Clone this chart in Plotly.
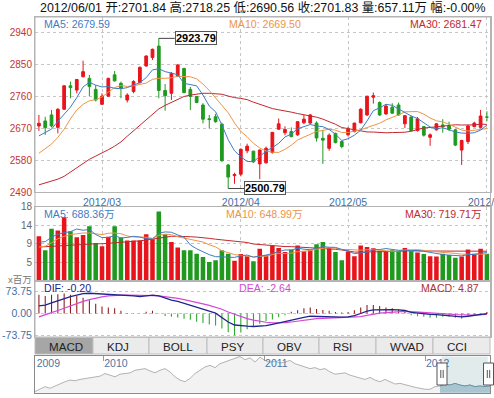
import plotly.graph_objects as go

W, H = 494, 398
FONT = "Liberation Sans, Arial, Noto Sans CJK SC, sans-serif"

# ---------------- data ----------------
dates = [
    "2012-02-16", "2012-02-17", "2012-02-20", "2012-02-21", "2012-02-22", "2012-02-23", "2012-02-24", "2012-02-27", "2012-02-28", "2012-02-29",
    "2012-03-01", "2012-03-02", "2012-03-05", "2012-03-06", "2012-03-07", "2012-03-08", "2012-03-09", "2012-03-12", "2012-03-13", "2012-03-14",
    "2012-03-15", "2012-03-16", "2012-03-19", "2012-03-20", "2012-03-21", "2012-03-22", "2012-03-23", "2012-03-26", "2012-03-27", "2012-03-28",
    "2012-03-29", "2012-03-30", "2012-04-05", "2012-04-06", "2012-04-09", "2012-04-10", "2012-04-11", "2012-04-12", "2012-04-13", "2012-04-16",
    "2012-04-17", "2012-04-18", "2012-04-19", "2012-04-20", "2012-04-23", "2012-04-24", "2012-04-25", "2012-04-26", "2012-04-27", "2012-05-02",
    "2012-05-03", "2012-05-04", "2012-05-07", "2012-05-08", "2012-05-09", "2012-05-10", "2012-05-11", "2012-05-14", "2012-05-15", "2012-05-16",
    "2012-05-17", "2012-05-18", "2012-05-21", "2012-05-22", "2012-05-23", "2012-05-24", "2012-05-25", "2012-05-28", "2012-05-29", "2012-05-30",
    "2012-05-31", "2012-06-01",
]

open_ = [2677, 2691, 2708, 2673, 2724, 2790, 2778, 2816, 2811, 2780,
         2738, 2761, 2821, 2797, 2750, 2774, 2799, 2846, 2870, 2902,
         2777, 2769, 2818, 2839, 2780, 2760, 2736, 2697, 2703, 2682,
         2567, 2537, 2541, 2607, 2606, 2570, 2573, 2602, 2668, 2658,
         2661, 2652, 2686, 2685, 2685, 2642, 2614, 2656, 2633, 2652,
         2661, 2686, 2708, 2758, 2743, 2711, 2730, 2736, 2683, 2702,
         2664, 2675, 2645, 2666, 2680, 2677, 2666, 2609, 2633, 2675,
         2673, 2701.84]
high = [2708, 2703, 2722, 2727, 2792, 2802, 2808, 2861, 2821, 2792,
        2769, 2813, 2832, 2802, 2769, 2806, 2845, 2876, 2895, 2923.79,
        2795, 2829, 2851, 2841, 2787, 2761, 2741, 2708, 2711, 2686,
        2570, 2545, 2614, 2627, 2607, 2611, 2619, 2660, 2698, 2676,
        2673, 2690, 2708, 2711, 2690, 2666, 2656, 2658, 2636, 2674,
        2686, 2727, 2761, 2771, 2746, 2739, 2741, 2743, 2708, 2706,
        2702, 2677, 2656, 2685, 2696, 2689, 2668, 2638, 2680, 2689,
        2722, 2718.25]
low = [2663, 2652, 2673, 2656, 2722, 2755, 2769, 2813, 2761, 2746,
       2736, 2759, 2802, 2755, 2743, 2769, 2797, 2844, 2863, 2755,
       2720, 2750, 2816, 2769, 2722, 2741, 2684, 2670, 2686, 2576,
       2500.79, 2514, 2535, 2600, 2573, 2527, 2571, 2599, 2666, 2651,
       2645, 2649, 2682, 2682, 2633, 2570, 2607, 2628, 2614, 2647,
       2659, 2684, 2705, 2740, 2705, 2708, 2711, 2705, 2671, 2661,
       2661, 2647, 2621, 2664, 2658, 2663, 2620, 2567, 2626, 2673,
       2670, 2690.56]
close = [2684.5, 2672, 2677, 2724, 2790, 2785, 2808, 2830, 2788, 2750,
         2761, 2811, 2804, 2783, 2764, 2802, 2842, 2874, 2893, 2777,
         2762, 2825, 2849, 2771, 2760, 2743, 2696, 2695, 2689, 2579,
         2533, 2540, 2611, 2620, 2576, 2609, 2614, 2659, 2683, 2667,
         2647, 2689, 2696, 2708, 2643, 2637, 2651, 2630, 2619, 2668,
         2685, 2724, 2761, 2762, 2708, 2733, 2713, 2708, 2706, 2664,
         2697, 2651, 2652, 2683, 2675, 2668, 2623, 2636, 2677, 2685,
         2705, 2701.83]

ma5 = [2649, 2659, 2668, 2690, 2709, 2730, 2757, 2787, 2800, 2792,
       2787, 2788, 2783, 2782, 2785, 2793, 2799, 2813, 2835, 2838,
       2830, 2826, 2821, 2797, 2793, 2790, 2764, 2733, 2717, 2680,
       2638, 2607, 2590, 2577, 2576, 2591, 2606, 2616, 2628, 2646,
       2654, 2669, 2676, 2681, 2677, 2675, 2667, 2654, 2636, 2641,
       2651, 2665, 2691, 2720, 2728, 2738, 2735, 2725, 2714, 2705,
       2698, 2685, 2674, 2669, 2672, 2666, 2660, 2657, 2656, 2658,
       2665, 2679.59]
ma10 = [2600, 2612, 2626, 2645, 2668, 2697, 2722, 2738, 2748, 2751,
        2758.5, 2772.4, 2785.1, 2791, 2788.4, 2790.1, 2793.5, 2797.9, 2808.4, 2811.1,
        2811.2, 2812.6, 2817.1, 2815.9, 2815.5, 2809.6, 2795, 2777.1, 2756.7, 2736.9,
        2714, 2685.5, 2661.7, 2646.6, 2628.2, 2614.8, 2606.6, 2603, 2602.4, 2611.2,
        2622.6, 2637.5, 2646, 2654.8, 2661.5, 2664.3, 2668, 2665.1, 2658.7, 2658.8,
        2662.6, 2666.1, 2672.6, 2678, 2684.5, 2694.1, 2700.3, 2708.1, 2716.8, 2716.4,
        2717.6, 2710.3, 2699.4, 2691.5, 2688.2, 2681.7, 2672.7, 2665.5, 2662.6, 2664.7,
        2665.5, 2669.50]
ma30 = [2511, 2516, 2521, 2527, 2535, 2547, 2560, 2572, 2583, 2592,
        2600, 2610, 2620, 2632, 2648, 2663, 2678, 2693, 2708, 2725,
        2735, 2744, 2752, 2760, 2764, 2767, 2769, 2769, 2768, 2766.3,
        2761.2, 2756.8, 2754.6, 2751.2, 2744, 2738.2, 2731.7, 2726, 2722.5, 2719.7,
        2715.9, 2711.9, 2708.3, 2705.8, 2701.7, 2696.2, 2689.9, 2681.7, 2672.6, 2669,
        2666.4, 2663, 2660.1, 2659.8, 2658.1, 2657.7, 2658.3, 2658.7, 2659.3, 2662.1,
        2667.6, 2671.3, 2672.7, 2674.8, 2678.1, 2680, 2680.3, 2679.6, 2679.4, 2680,
        2681.9, 2681.47]

# volume, in millions (百万)
volume = [10.8, 7.4, 12.6, 12.2, 15.4, 12.0, 10.6, 11.1, 13.2, 9.2,
          8.4, 10.7, 13.2, 10.5, 9.8, 9.8, 9.8, 11.3, 10.1, 16.8,
          11.3, 9.4, 8.1, 7.4, 7.4, 6.6, 5.8, 4.6, 5.0, 7.4,
          6.6, 4.9, 6.5, 6.0, 4.8, 7.8, 6.2, 8.5, 8.0, 7.0,
          7.6, 8.6, 7.2, 7.4, 8.9, 9.4, 7.9, 7.0, 5.0, 7.1,
          6.0, 8.6, 8.2, 7.9, 7.3, 7.2, 7.4, 7.3, 8.0, 7.2,
          6.9, 6.5, 6.0, 5.9, 6.6, 6.3, 5.6, 5.9, 7.6, 6.6,
          7.8, 6.5711]
vol_ma5 = [9.4, 9.5, 10.6, 11.3, 11.68, 11.92, 12.56, 12.26, 12.46, 11.22,
           10.5, 10.52, 10.94, 10.4, 10.52, 10.8, 10.62, 10.24, 10.16, 11.56,
           11.86, 11.78, 11.14, 10.6, 8.72, 7.78, 7.06, 6.36, 5.88, 5.88,
           5.88, 5.7, 6.08, 6.28, 5.76, 6.0, 6.26, 6.66, 7.06, 7.5,
           7.46, 7.94, 7.68, 7.56, 7.94, 8.3, 8.16, 8.12, 7.64, 7.28,
           6.6, 6.74, 6.98, 7.56, 7.6, 7.84, 7.6, 7.42, 7.44, 7.42,
           7.36, 7.18, 6.92, 6.5, 6.38, 6.26, 6.08, 6.06, 6.4, 6.4,
           6.7, 6.8836]
vol_ma10 = [8.2, 8.4, 9.2, 10.2, 10.8, 11.2, 11.4, 11.6, 11.6, 11.45,
            11.21, 11.54, 11.6, 11.43, 10.87, 10.65, 10.57, 10.59, 10.28, 11.04,
            11.33, 11.2, 10.69, 10.38, 10.14, 9.82, 9.42, 8.75, 8.24, 7.3,
            6.83, 6.38, 6.22, 6.08, 5.82, 5.94, 5.98, 6.37, 6.67, 6.63,
            6.73, 7.1, 7.17, 7.31, 7.72, 7.88, 8.05, 7.9, 7.6, 7.61,
            7.45, 7.45, 7.55, 7.6, 7.44, 7.22, 7.17, 7.2, 7.5, 7.51,
            7.6, 7.39, 7.17, 6.97, 6.9, 6.81, 6.63, 6.49, 6.45, 6.39,
            6.48, 6.4899]
vol_ma30 = [8.2, 8.3, 8.4, 8.4, 8.5, 8.6, 8.7, 8.8, 8.9, 9.0,
            9.0, 9.1, 9.2, 9.3, 9.4, 9.5, 9.7, 9.9, 10.1, 10.4,
            10.6, 10.8, 10.8, 10.8, 10.7, 10.6, 10.5, 10.3, 10.1, 9.93,
            9.79, 9.71, 9.5, 9.3, 8.94, 8.8, 8.66, 8.57, 8.4, 8.32,
            8.3, 8.23, 8.03, 7.92, 7.89, 7.88, 7.82, 7.67, 7.5, 7.18,
            7.0, 6.98, 6.98, 7.0, 6.99, 7.01, 7.07, 7.16, 7.26, 7.25,
            7.26, 7.31, 7.3, 7.29, 7.35, 7.3, 7.28, 7.2, 7.18, 7.17,
            7.18, 7.1971]

dif = [25, 28, 35, 42, 50, 56, 61, 66, 67, 66,
       65, 64, 63, 62, 60, 58, 56, 58, 61, 58,
       50, 44, 40, 34, 28, 20, 14, 8, 1, -14,
       -28, -38, -41, -42, -43, -42, -40, -36, -31, -27,
       -22, -17, -13, -9, -10, -11, -12, -13, -12, -11,
       -7, 0, 8, 12, 13, 13, 13, 12, 10, 4,
       1, -1, -3, -4, -6, -7, -9, -11, -9, -6,
       -3, -0.20]
dea = [-11, -5, 3, 10, 18, 26, 33, 40, 46, 51,
       55, 58, 60, 61, 61, 61, 60, 59, 59, 58,
       56, 53, 50, 46, 42, 37, 32, 27, 21, 14,
       5, -3, -10, -17, -22, -26, -29, -31, -31, -30,
       -28, -25, -22, -19, -17, -16, -15, -15, -14, -14,
       -13, -10, -6, -2, 1, 3, 5, 6, 7, 6,
       5, 4, 2, 1, -1, -2, -4, -5, -6, -5,
       -4, -2.64]
macd = [62, 58, 62, 64, 66, 62, 58, 52, 44, 32,
        23, 20, 17, 9, 2, 0.5, -1, 6, 9, 1,
        -8, -11, -13, -17, -21, -27, -31, -36, -40, -50,
        -62, -72, -63, -52, -42, -34, -26, -20, -12, -6,
        6, 11, 17, 20, 15, 12, 9, 5, 3, 5,
        11, 20, 28, 28, 25, 20, 17, 14, 9, -6,
        -9, -11, -14, -14, -11, -11, -14, -17, -11, -8,
        -2, 4.87]

main_ticks = [2490, 2580, 2670, 2760, 2850, 2940]
vol_ticks = [4.5, 9, 13.5, 18]
vol_tick_text = ["5", "9", "14", "18"]
macd_ticks = [-73.75, 0, 73.75]
macd_tick_text = ["-73.75", "0.00", "73.75"]
tab_names = ["MACD", "KDJ", "BOLL", "PSY", "OBV", "RSI", "WVAD", "CCI"]
change_pct = "-0.00%"

# navigator: long history line (index level), Aug 2009 .. Jun 2012
nav_level = [2530, 2600, 2680, 2630, 2700, 2780, 2830, 2880, 2860, 2900,
             2930, 2960, 2980, 3000, 3080, 3030, 2980, 3060, 3080, 3100,
             3180, 3200, 3230, 3160, 3100, 3180, 3230, 3130, 2980, 2880,
             2830, 2930, 3080, 3180, 3280, 3330, 3260, 3380, 3430, 3480,
             3530, 3600, 3500, 3560, 3430, 3580, 3480, 3430, 3460, 3400,
             3430, 3480, 3380, 3330, 3300, 3230, 3260, 3200, 3230, 3130,
             3060, 3080, 3100, 3030, 2980, 2930, 2900, 2960, 2880, 2830,
             2900, 2830, 2760, 2780, 2730, 2700, 2660, 2630, 2600, 2600,
             2680, 2700, 2760, 2730, 2780, 2730, 2700, 2730, 2680, 2700,
             2680, 2700]
nav_start, nav_end = 2009.576, 2012.404
nav_years = [2009.58, 2010, 2011, 2012]
nav_year_text = ["2009", "2010", "2011", "2012"]
sel_start, sel_end = 2012.104, 2012.390

# ---------------- figure ----------------
RED = "#e8141c"
GREEN = "#1f9a1f"
C5, C10, C30 = "#3f7cc4", "#ee9448", "#c2282e"
GRID = "#c6c6c6"
BORDER = "#b4b4b4"
BLUE_TXT = "#3f6fa6"

n = len(dates)
idx = list(range(n))
nav_t = [nav_start + (nav_end - nav_start) * k / (len(nav_level) - 1) for k in range(len(nav_level))]

tick_idx = [i for i in range(1, n) if dates[i][5:7] != dates[i - 1][5:7]]
tick_txt = [dates[i][:7].replace("-", "/") for i in tick_idx]

fig = go.Figure()
fig.add_trace(go.Candlestick(
    x=idx, open=open_, high=high, low=low, close=close,
    increasing=dict(line=dict(color=RED, width=1), fillcolor=RED),
    decreasing=dict(line=dict(color=GREEN, width=1), fillcolor=GREEN),
    whiskerwidth=0, xaxis="x", yaxis="y", showlegend=False, hoverinfo="skip"))
for arr, col in [(ma30, C30), (ma10, C10), (ma5, C5)]:
    fig.add_trace(go.Scatter(x=idx, y=arr, mode="lines", line=dict(color=col, width=1),
                             xaxis="x", yaxis="y", showlegend=False, hoverinfo="skip"))

vcol = [RED if close[i] > open_[i] else GREEN for i in idx]
fig.add_trace(go.Bar(x=idx, y=volume, marker=dict(color=vcol, line=dict(width=0)), width=0.72,
                     xaxis="x2", yaxis="y2", showlegend=False, hoverinfo="skip"))
for arr, col in [(vol_ma30, C30), (vol_ma10, C10), (vol_ma5, C5)]:
    fig.add_trace(go.Scatter(x=idx, y=arr, mode="lines", line=dict(color=col, width=1),
                             xaxis="x2", yaxis="y2", showlegend=False, hoverinfo="skip"))

mcol = ["#8e1b1b" if v >= 0 else "#2aa52a" for v in macd]
fig.add_trace(go.Bar(x=idx, y=macd, marker=dict(color=mcol, line=dict(width=0)), width=0.17,
                     xaxis="x3", yaxis="y3", showlegend=False, hoverinfo="skip"))
fig.add_trace(go.Scatter(x=idx, y=dea, mode="lines", line=dict(color="#d548d5", width=1.2),
                         xaxis="x3", yaxis="y3", showlegend=False, hoverinfo="skip"))
fig.add_trace(go.Scatter(x=idx, y=dif, mode="lines", line=dict(color="#23238c", width=1.3),
                         xaxis="x3", yaxis="y3", showlegend=False, hoverinfo="skip"))

# navigator
fig.add_trace(go.Scatter(x=nav_t, y=nav_level, mode="lines", line=dict(color="#b2b2b2", width=1),
                         fill="tozeroy", fillcolor="#f2f2f2",
                         xaxis="x4", yaxis="y4", showlegend=False, hoverinfo="skip"))
sel_t = [t for t in nav_t if t >= sel_start - 0.02]
sel_v = [v for t, v in zip(nav_t, nav_level) if t >= sel_start - 0.02]
fig.add_trace(go.Scatter(x=sel_t, y=sel_v, mode="lines", line=dict(color="#6d92a6", width=1),
                         fill="tozeroy", fillcolor="#a9c5cf",
                         xaxis="x4", yaxis="y4", showlegend=False, hoverinfo="skip"))


def yd(top, bot):
    return [1 - bot / H, 1 - top / H]


xdom = [35 / W, 490.5 / W]
xr = [-0.62, 71.57]
base_ax = dict(showline=True, mirror=True, linecolor=BORDER, linewidth=1, zeroline=False,
               automargin=False, fixedrange=True)

layout = dict(
    width=W, height=H, autosize=False,
    margin=dict(l=0, r=0, t=0, b=0, pad=0),
    paper_bgcolor="white", plot_bgcolor="white",
    font=dict(family=FONT, size=10, color="#333"),
    showlegend=False, barmode="overlay", boxgap=0.38,
    xaxis=dict(base_ax, domain=xdom, range=xr, anchor="y", tickmode="array", tickvals=tick_idx,
               ticktext=tick_txt, ticks="", showgrid=True, gridcolor=GRID, griddash="dot",
               ticklabeloverflow="allow",
               tickfont=dict(size=10.5, color=BLUE_TXT), rangeslider=dict(visible=False)),
    yaxis=dict(base_ax, domain=yd(17, 192.3), range=[2490, 2984], anchor="x", tickmode="array",
               tickvals=main_ticks, ticks="", showgrid=True, gridcolor=GRID, griddash="dot",
               tickfont=dict(size=10, color="#c43434")),
    xaxis2=dict(base_ax, domain=xdom, range=xr, anchor="y2", tickmode="array", tickvals=tick_idx,
                showticklabels=False, ticks="", showgrid=True, gridcolor=GRID, griddash="dot"),
    yaxis2=dict(base_ax, domain=yd(206.5, 281), range=[0, 18], anchor="x2", tickmode="array",
                tickvals=vol_ticks, ticktext=vol_tick_text, ticks="", showgrid=True, gridcolor=GRID,
                griddash="dot", tickfont=dict(size=10, color="#666")),
    xaxis3=dict(base_ax, domain=xdom, range=xr, anchor="y3", showticklabels=False, ticks="",
                showgrid=False),
    yaxis3=dict(base_ax, domain=yd(281, 337), range=[-77.7, 107.5], anchor="x3", tickmode="array",
                tickvals=macd_ticks, ticktext=macd_tick_text, ticks="", showgrid=True, gridcolor=GRID,
                griddash="dot", tickfont=dict(size=10.5, color=BLUE_TXT)),
    xaxis4=dict(base_ax, domain=[35 / W, 490 / W], range=[nav_start, nav_end], anchor="y4", side="top",
                tickmode="array", tickvals=nav_years, ticktext=nav_year_text, ticks="inside", ticklen=5,
                tickcolor="#999", ticklabelposition="inside right", ticklabeloverflow="allow",
                showgrid=False, linecolor="#8a8a8a",
                tickfont=dict(size=10.5, color="#4e74a6")),
    yaxis4=dict(base_ax, domain=yd(356, 392.7), range=[2495, 3615], anchor="x4", showticklabels=False,
                ticks="", showgrid=False, linecolor="#8a8a8a"),
)

shapes = []
ann = []


def X(px):
    return px / W


def Y(py):
    return 1 - py / H


def text(px, py, s, color, size=10.6, anchor="left"):
    ann.append(dict(x=X(px), y=Y(py), xref="paper", yref="paper", text=s, showarrow=False,
                    xanchor=anchor, yanchor="middle", font=dict(family=FONT, size=size, color=color)))


# title line
d = dates[-1].replace("-", "/")
title = (f"{d} 开:{open_[-1]:.2f} 高:{high[-1]:.2f} 低:{low[-1]:.2f} 收:{close[-1]:.2f} "
         f"量:{volume[-1] * 100:.2f}万 幅:{change_pct}")
text(37.5, 7, title, "#111", size=12.4)

# indicator labels
text(41.5, 24, f"MA5: {ma5[-1]:.2f}", C5)
text(226.5, 24, f"MA10: {ma10[-1]:.2f}", C10)
text(484, 24, f"MA30: {ma30[-1]:.2f}", C30, anchor="right")
text(41.5, 214, f"MA5: {vol_ma5[-1] * 100:.2f}万", C5)
text(224, 214, f"MA10: {vol_ma10[-1] * 100:.2f}万", C10)
text(484, 214, f"MA30: {vol_ma30[-1] * 100:.2f}万", C30, anchor="right")
text(41.5, 287.5, f"DIF: {dif[-1]:.2f}", "#23238c")
text(237, 287.5, f"DEA: {dea[-1]:.2f}", "#d548d5")
text(481, 287.5, f"MACD: {macd[-1]:.2f}", "#b03030", anchor="right")
text(33.5, 279.5, "x百万", "#777", size=9.5, anchor="right")

# high / low markers
ih = max(idx, key=lambda i: high[i])
il = min(idx, key=lambda i: low[i])
for i, v in [(ih, high[ih]), (il, low[il])]:
    ann.append(dict(x=i, y=v, xref="x", yref="y", text=f"<b>{v:.2f}</b>", showarrow=True,
                    arrowhead=0, arrowwidth=1, arrowcolor="#444", ax=16, ay=0, xanchor="left",
                    yanchor="middle", bgcolor="white", bordercolor="#555", borderwidth=1, borderpad=0,
                    font=dict(family=FONT, size=11, color="#000")))

# outer frame of chart panels
shapes.append(dict(type="rect", xref="paper", yref="paper", x0=X(35), x1=X(490.5), y0=Y(337), y1=Y(17),
                   line=dict(color=BORDER, width=1), layer="above"))

# tabs
edges = [35, 93, 149, 207, 263, 319, 376, 433, 490]
for k, name in enumerate(tab_names):
    shapes.append(dict(type="rect", xref="paper", yref="paper", x0=X(edges[k]), x1=X(edges[k + 1]),
                       y0=Y(354), y1=Y(337.5), fillcolor="#a6a6a6" if k == 0 else "#ebebeb",
                       line=dict(color="#bdbdbd", width=1), layer="above"))
    text(edges[k] + 12, 346, name, "#222", size=11.6)

# navigator selection
shapes.append(dict(type="rect", xref="x4", yref="paper", x0=sel_start, x1=sel_end, y0=Y(392.5), y1=Y(356.5),
                   fillcolor="#e2ebec", line=dict(width=0), layer="below"))
for hx in [442, 488.5]:
    shapes.append(dict(type="rect", xref="paper", yref="paper", x0=X(hx - 5), x1=X(hx + 5),
                       y0=Y(385), y1=Y(363), fillcolor="white", line=dict(color="#555", width=1),
                       layer="above"))
    for gx in [hx - 1.2, hx + 1.2]:
        shapes.append(dict(type="line", xref="paper", yref="paper", x0=X(gx), x1=X(gx),
                           y0=Y(378), y1=Y(370), line=dict(color="#555", width=1), layer="above"))

layout["shapes"] = shapes
layout["annotations"] = ann
fig.update_layout(**layout)

fig.write_html("out.html", config={"displayModeBar": False, "staticPlot": True},
               post_script="document.body.style.margin='0';document.body.style.overflow='hidden';")
